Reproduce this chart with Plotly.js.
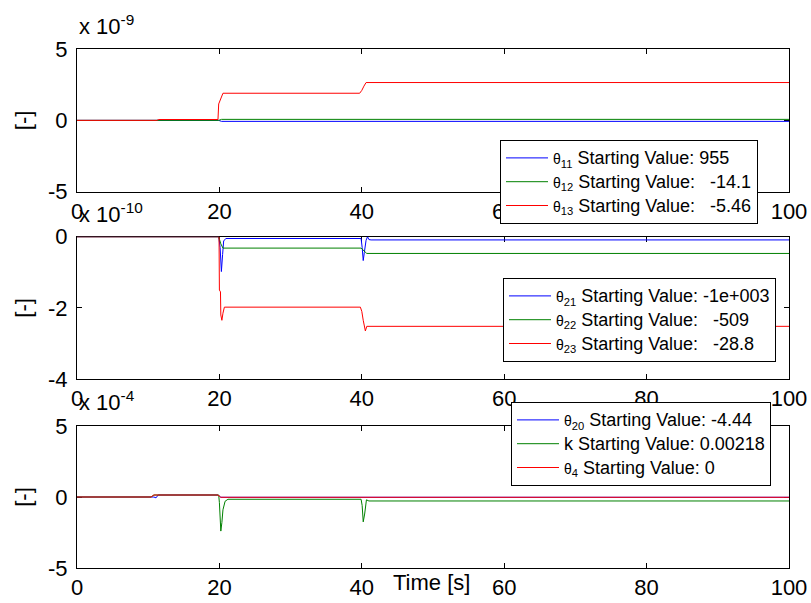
<!DOCTYPE html>
<html>
<head>
<meta charset="utf-8">
<script src="https://cdn.plot.ly/plotly-3.0.1.min.js"></script>
<style>html,body{margin:0;padding:0;background:#fff;}#chart{width:811px;height:603px;}</style>
</head>
<body>
<div id="chart"></div>
<script>
// ---- Data (values in units of the exponent shown above each axis) ----
// Top panel (x 10^-9)
const t11 = [0, 19.9, 20.3, 100];
const v11 = [0, 0, -0.07, -0.07];
const t12 = [0, 19.9, 20.3, 100];
const v12 = [0, 0, 0.07, 0.07];
const t13 = [0, 11.2, 11.5, 19.8, 19.9, 20.2, 20.5, 39.7, 40.0, 40.3, 40.6, 100];
const v13 = [0, 0, 0.06, 0.06, 1.15, 1.6, 1.9, 1.9, 2.1, 2.4, 2.65, 2.65];
// Middle panel (x 10^-10)
const t21 = [0, 19.9, 20.1, 20.28, 20.45, 20.6, 20.9, 39.9, 40.05, 40.2, 40.35, 40.6, 40.8, 41.0, 41.3, 100];
const v21 = [0, 0, -0.3, -0.98, -0.5, -0.12, -0.05, -0.05, -0.3, -0.67, -0.45, -0.1, 0.0, -0.08, -0.09, -0.09];
const t22 = [0, 19.9, 20.2, 20.5, 39.9, 40.3, 40.7, 100];
const v22 = [0, 0, -0.2, -0.32, -0.32, -0.4, -0.47, -0.47];
const t23 = [0, 19.95, 20.0, 20.15, 20.2, 20.35, 20.5, 20.7, 39.8, 40.0, 40.2, 40.35, 40.5, 40.7, 100];
const v23 = [0, 0, -1.5, -1.55, -2.2, -2.35, -2.15, -1.98, -1.98, -2.1, -2.35, -2.5, -2.65, -2.52, -2.52];
// Bottom panel (x 10^-4)
const t20 = [0, 10.8, 11.1, 11.4, 19.8, 20.2, 100];
const v20 = [0, 0, -0.06, 0.14, 0.14, -0.02, -0.02];
const tk = [0, 10.4, 10.8, 19.9, 20.0, 20.2, 20.35, 20.5, 20.8, 21.2, 39.9, 40.05, 40.2, 40.4, 40.65, 41.0, 100];
const vk = [0, 0, 0.14, 0.14, -0.4, -2.4, -1.8, -0.9, -0.3, -0.16, -0.16, -0.6, -1.75, -1.2, -0.2, -0.28, -0.28];
const t4 = [0, 10.4, 10.8, 19.8, 20.2, 100];
const v4 = [0, 0, 0.14, 0.14, -0.02, -0.02];

// Legend labels
const names1 = ["11", "12", "13"];
const start1 = ["955", "\u00A0 -14.1", "\u00A0 -5.46"];
const names2 = ["21", "22", "23"];
const start2 = ["-1e+003", "\u00A0 -509", "\u00A0 -28.8"];
const start3 = ["-4.44", "0.00218", "0"];
const xTicks = [0, 20, 40, 60, 80, 100];
const yTicks1 = [-5, 0, 5];
const yTicks2 = [-4, -2, 0];
const yTicks3 = [-5, 0, 5];

const BLUE = "#0000ff", GREEN = "#008000", RED = "#ff0000";
const th = (sub) => "<span style='font-size:14px'>\u03B8</span><sub>" + sub + "</sub>";
const big = (s) => "<span style='font-size:18px'>" + s + "</span>";

function tr(x, y, color, name, xa, ya, lg) {
  return {x: x, y: y, type: "scatter", mode: "lines", name: name,
    line: {color: color, width: 1}, xaxis: xa, yaxis: ya, legend: lg, cliponaxis: false};
}

const data = [
  tr(t11, v11, BLUE, th(names1[0]) + big(" Starting Value: " + start1[0]), "x", "y", "legend"),
  tr(t12, v12, GREEN, th(names1[1]) + big(" Starting Value: " + start1[1]), "x", "y", "legend"),
  tr(t13, v13, RED, th(names1[2]) + big(" Starting Value: " + start1[2]), "x", "y", "legend"),
  tr(t21, v21, BLUE, th(names2[0]) + big(" Starting Value: " + start2[0]), "x2", "y2", "legend2"),
  tr(t22, v22, GREEN, th(names2[1]) + big(" Starting Value: " + start2[1]), "x2", "y2", "legend2"),
  tr(t23, v23, RED, th(names2[2]) + big(" Starting Value: " + start2[2]), "x2", "y2", "legend2"),
  tr(t20, v20, BLUE, th("20") + big(" Starting Value: " + start3[0]), "x3", "y3", "legend3"),
  tr(tk, vk, GREEN, big("k Starting Value: " + start3[1]), "x3", "y3", "legend3"),
  tr(t4, v4, RED, th("4") + big(" Starting Value: " + start3[2]), "x3", "y3", "legend3")
];

const FONT = "Liberation Sans, Arial, Helvetica, sans-serif";
const tickFont = {family: FONT, size: 22, color: "#000"};

const L = 77, R = 22, T = 49, B = 35;
const W = 811 - L - R, H = 603 - T - B;
const px2x = (px) => (px - L) / W;
const py2y = (py) => (603 - B - py) / H;

function xax(anchor) {
  return {anchor: anchor, domain: [0, 1], range: [0, 100], tickvals: xTicks, ticktext: xTicks.map(String),
    showline: true, linecolor: "#000", linewidth: 1, mirror: "ticks", ticks: "inside", ticklen: 5,
    tickcolor: "#000", showgrid: false, zeroline: false, tickfont: tickFont, layer: "below traces",
    automargin: false, fixedrange: true};
}
function yax(anchor, dom, rng, tv) {
  return {anchor: anchor, domain: dom, range: rng, tickvals: tv, ticktext: tv.map(String),
    showline: true, linecolor: "#000", linewidth: 1, mirror: "ticks", ticks: "inside", ticklen: 5,
    tickcolor: "#000", showgrid: false, zeroline: false, tickfont: tickFont, layer: "below traces",
    ticklabelstandoff: 4, automargin: false,
    title: {text: "[-]", font: {family: FONT, size: 22, color: "#000"}, standoff: 10},
    fixedrange: true};
}
function leg(px, py) {
  return {x: px2x(px), y: py2y(py), xref: "paper", yref: "paper", xanchor: "left", yanchor: "top",
    bgcolor: "#fff", bordercolor: "#000", borderwidth: 1, itemwidth: 42,
    font: {family: FONT, size: 16, color: "#000"}, tracegroupgap: 0};
}

const annFont = {family: FONT, size: 22, color: "#000"};
function expAnn(txt, py) {
  return {text: "x 10<sup>" + txt + "</sup>", xref: "paper", yref: "paper", x: 0, y: py2y(py),
    xanchor: "left", yanchor: "bottom", showarrow: false, font: annFont};
}

const layout = {
  width: 811, height: 603,
  margin: {l: L, r: R, t: T, b: B, autoexpand: false},
  paper_bgcolor: "#fff", plot_bgcolor: "#fff",
  font: {family: FONT, color: "#000"},
  xaxis: xax("y"), xaxis2: xax("y2"), xaxis3: xax("y3"),
  yaxis: yax("x", [0.725, 1], [-5, 5], yTicks1),
  yaxis2: yax("x2", [0.3642, 0.6383], [-4, 0], yTicks2),
  yaxis3: yax("x3", [0, 0.2736], [-5, 5], yTicks3),
  legend: leg(500, 140), legend2: leg(503, 278), legend3: leg(511, 402),
  showlegend: true,
  annotations: [
    expAnn("-9", 41), expAnn("-10", 229), expAnn("-4", 417),
    {text: "Time [s]", xref: "paper", yref: "paper", x: px2x(431), y: py2y(582),
      xanchor: "center", yanchor: "middle", showarrow: false, font: annFont}
  ]
};

Plotly.newPlot("chart", data, layout, {displayModeBar: false, staticPlot: true});
</script>
</body>
</html>
